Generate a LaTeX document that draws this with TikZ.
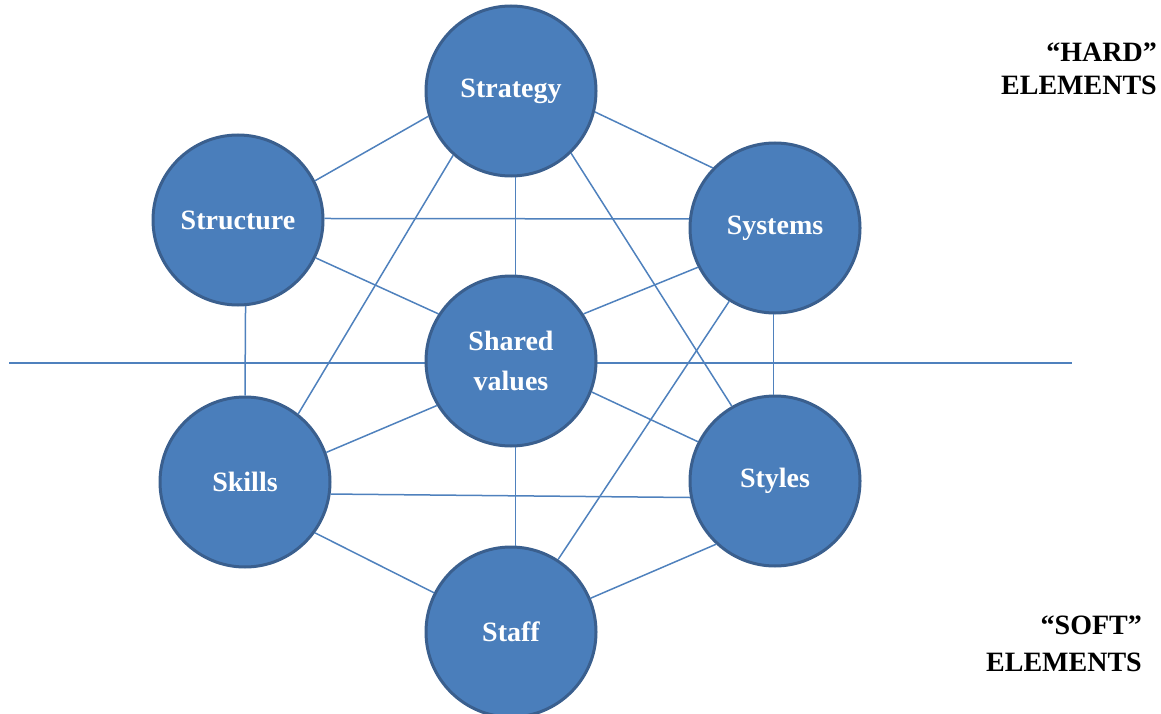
\documentclass[tikz,border=0pt]{standalone}
\usepackage{fontspec}
\setmainfont{Liberation Serif}
\usetikzlibrary{backgrounds}
\definecolor{cfill}{HTML}{4A7EBB}
\definecolor{cborder}{HTML}{3A5F8E}
\definecolor{cline}{HTML}{4F81BD}
\begin{document}
\begin{tikzpicture}[x=1pt,y=-1pt,
  elem/.style={circle, fill=cfill, draw=cborder, line width=3pt,
    minimum size=170pt, inner sep=0pt, text=white,
    font=\fontsize{28}{40}\selectfont\bfseries, align=center},
  link/.style={draw=cline, line width=1.5pt},
  side/.style={font=\fontsize{28}{33}\selectfont\bfseries, align=right,
    inner sep=0pt, anchor=north east}]
\useasboundingbox (0,0) rectangle (1161,714);

\node[elem] (strat)  at (511,91)  {Strategy};
\node[elem] (struct) at (238,220) {Structure};
\node[elem] (sys)    at (775,228) {Systems};
\node[elem] (shared) at (511,361) {Shared\\values};
\node[elem] (skills) at (245,482) {Skills};
\node[elem] (styles) at (775,481) {Styles};
\node[elem] (staff)  at (511,632) {Staff};

\node[side] (hard) at (1157,43) {“HARD”\\ELEMENTS};
\node[side, font=\fontsize{28}{37}\selectfont\bfseries] (soft) at (1142,616) {“SOFT”\\ELEMENTS};

\coordinate (hl) at (9,363);
\coordinate (hr) at (1072,363);

\begin{scope}[on background layer]
  \draw[link] (hl) -- (hr);
\end{scope}

\draw[link] (strat.197) -- (struct.27);
\draw[link] (strat.346) -- (sys.136);
\draw[link] (strat.273) -- (shared.87);
\draw[link] (strat.228) -- (skills.52);
\draw[link] (strat.314) -- (styles.120);
\draw[link] (struct.1) -- (sys.174);
\draw[link] (struct.334) -- (shared.147);
\draw[link] (struct.275) -- (skills.90);
\draw[link] (sys.207) -- (shared.33);
\draw[link] (sys.269) -- (styles.91);
\draw[link] (sys.238) -- (staff.57);
\draw[link] (shared.211) -- (skills.20);
\draw[link] (shared.339) -- (styles.153);
\draw[link] (shared.273) -- (staff.87);
\draw[link] (skills.352) -- (styles.191);
\draw[link] (skills.324) -- (staff.153);
\draw[link] (styles.227) -- (staff.23);
\end{tikzpicture}
\end{document}
